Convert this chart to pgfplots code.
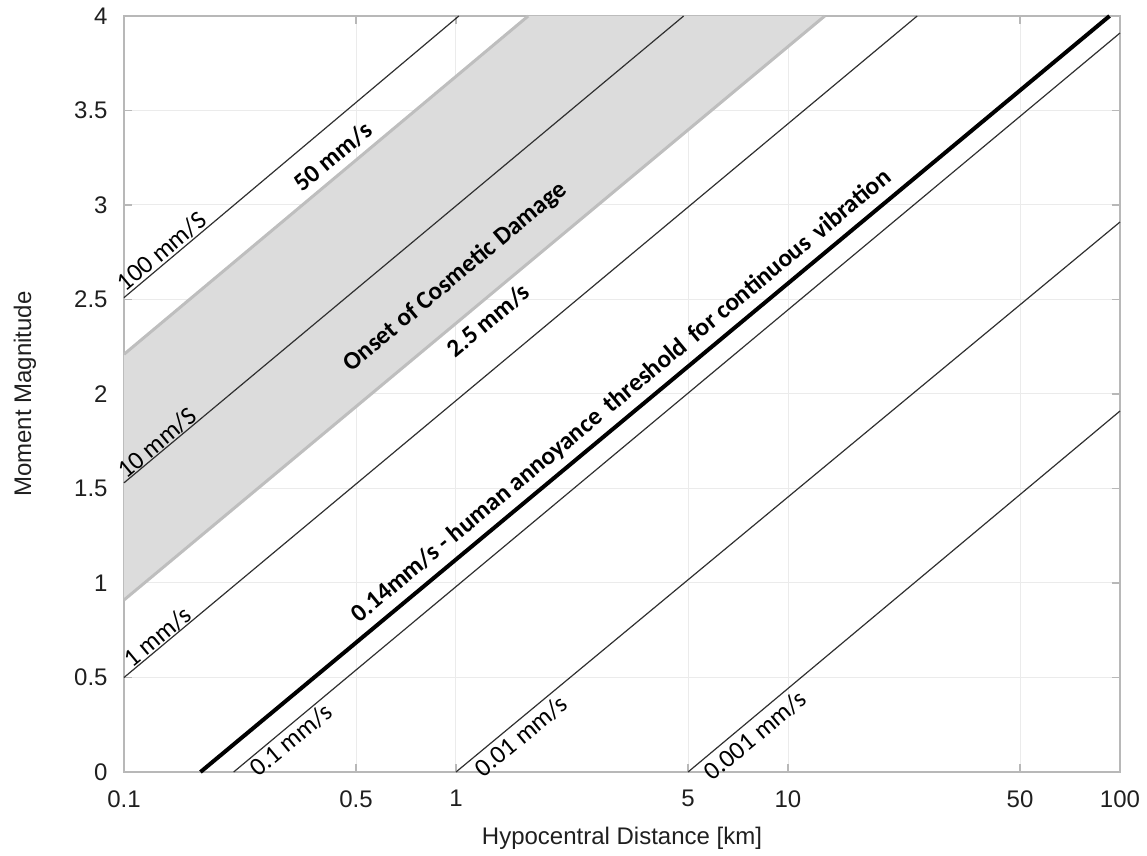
\documentclass[border=0pt]{standalone}
\usepackage{pgfplots}
\pgfplotsset{compat=1.18}
\usepackage{fontspec}
\setmainfont{Liberation Sans}
\newfontfamily\carlito{Carlito}
\definecolor{bandfill}{HTML}{DCDCDC}
\definecolor{bandedge}{HTML}{BEBEBE}
\definecolor{gridc}{HTML}{EBEBEB}
\definecolor{axisc}{HTML}{B8B8B8}
\definecolor{linec}{HTML}{303030}
\tikzset{lbl/.style={font=\carlito\fontsize{12.8}{15}\selectfont, text=black, inner sep=0pt, sloped, anchor=center},
         blbl/.style={lbl, font=\carlito\bfseries\fontsize{12.6}{15}\selectfont}}
\begin{document}
\begin{tikzpicture}
\begin{axis}[
  scale only axis, width=498pt, height=378pt,
  xmode=log, xmin=0.1, xmax=100, ymin=0, ymax=4,
  xtick={0.1,0.5,1,5,10,50,100},
  xticklabels={0.1,0.5,1,5,10,50,100},
  ytick={0,0.5,1,1.5,2,2.5,3,3.5,4},
  yticklabels={0,0.5,1,1.5,2,2.5,3,3.5,4},
  xminorticks=false, yminorticks=false,
  grid=major, major grid style={draw=gridc, line width=0.5pt},
  axis line style={draw=axisc, line width=0.6pt},
  tick style={draw=axisc, line width=0.6pt},
  major tick length=4pt,
  tick align=inside,
  every tick label/.append style={font=\fontsize{12}{14}\selectfont, text=black!88, inner sep=0pt},
  xticklabel style={yshift=-9pt},
  yticklabel style={xshift=-8pt},
  xlabel={Hypocentral Distance [km]},
  ylabel={Moment Magnitude},
  label style={font=\fontsize{12}{14}\selectfont, text=black!88},
  xlabel style={at={(axis description cs:0.5,-0.0875)}, anchor=center},
  ylabel style={at={(axis description cs:-0.0994,0.5)}, anchor=center},
  clip=false,
]
% Onset of cosmetic damage band (between 50 mm/s and 2.5 mm/s)
\addplot[draw=none, fill=bandfill] coordinates {(0.1,2.21) (1.65,4) (12.9,4) (0.1,0.91)} -- cycle;
% band edges
\addplot[bandedge, line width=1.5pt] coordinates {(0.1,2.21) (1.65,4)}
  node[blbl, pos=0.545, yshift=8.8pt] {50 mm/s};
\addplot[bandedge, line width=1.5pt] coordinates {(0.1,0.91) (12.9,4)}
  node[blbl, pos=0.506, yshift=18pt] {Onset of Cosmetic Damage}
  node[blbl, pos=0.503, yshift=-9.2pt] {2.5 mm/s};
% thin PGV lines
\addplot[linec, line width=0.6pt] coordinates {(0.1,2.51) (1.02,4)}
  node[lbl, pos=0.134, yshift=5.6pt] {100 mm/S};
\addplot[linec, line width=0.6pt] coordinates {(0.1,1.53) (4.85,4)}
  node[lbl, pos=0.07, yshift=4.8pt] {10 mm/S};
\addplot[linec, line width=0.6pt] coordinates {(0.1,0.50) (24.5,4)}
  node[lbl, pos=0.05, yshift=5pt] {1 mm/s};
\addplot[black, line width=2pt] coordinates {(0.17,0) (93,4)}
  node[blbl, pos=0.477, yshift=9.8pt] {0.14mm/s - human annoyance\hspace{0.15em} threshold\hspace{0.15em} for continuous\hspace{0.15em} vibration};
\addplot[linec, line width=0.6pt] coordinates {(0.214,0) (100,3.91)}
  node[lbl, pos=0.056, yshift=-6pt] {0.1 mm/s};
\addplot[linec, line width=0.6pt] coordinates {(1.0,0) (100,2.91)}
  node[lbl, pos=0.085, yshift=-7pt] {0.01 mm/s};
\addplot[linec, line width=0.6pt] coordinates {(5.0,0) (100,1.91)}
  node[lbl, pos=0.133, yshift=-7.6pt] {0.001 mm/s};
\end{axis}
\pgfresetboundingbox
\path[use as bounding box] (-62pt,-42pt) rectangle (511.5pt,386pt);
\end{tikzpicture}
\end{document}
